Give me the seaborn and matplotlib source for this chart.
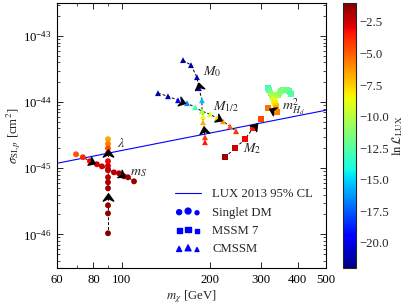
import numpy as np
import pandas as pd
import matplotlib
matplotlib.use('Agg')
import matplotlib.pyplot as plt
import seaborn as sns
from matplotlib.path import Path
from matplotlib.lines import Line2D
from matplotlib.ticker import FixedLocator, NullFormatter, LogLocator

# ---- data ----
lux_m = [60, 80, 100, 150, 200, 300, 400, 500]
lux_sig = [1.19e-45, 1.53e-45, 1.86e-45, 2.65e-45, 3.40e-45, 4.85e-45, 6.23e-45, 7.56e-45]

# Singlet DM, lambda scan
lam_m = [89.7, 89.7, 89.7, 89.7, 89.7, 89.7, 89.7, 89.7, 89.7, 89.7, 89.7, 89.7, 89.7]
lam_sig = [2.75e-45, 2.35e-45, 2.01e-45, 1.69e-45, 1.28e-45, 1.09e-45, 9.33e-46,
           7.31e-46, 6.14e-46, 4.98e-46, 2.75e-46, 2.08e-46, 1.04e-46]
lam_lnL = [-6.6, -5.8, -4.6, -3.5, -3.0, -2.6, -2.3, -2.0, -1.8, -1.6, -1.4, -1.3, -1.1]

# Singlet DM, m_S scan
ms_m = [69.7, 73.6, 77.8, 82.2, 85.5, 89.7, 94.0, 97.8, 101.7, 105.0, 110.1]
ms_sig = [1.63e-45, 1.47e-45, 1.28e-45, 1.15e-45, 1.07e-45, 9.66e-46, 8.69e-46,
          8.40e-46, 7.56e-46, 7.31e-46, 6.35e-46]
ms_lnL = [-4.8, -3.8, -3.0, -2.6, -2.4, -2.3, -2.0, -1.8, -1.7, -1.6, -1.5]

# CMSSM, M0 scan
m0_m = [162.0, 172.5, 180.8, 183.7, 188.1, 188.1, 189.6, 189.6, 191.1, 192.6, 192.6]
m0_sig = [4.33e-44, 3.64e-44, 2.39e-44, 1.63e-44, 1.07e-44, 7.31e-45, 6.14e-45,
          4.98e-45, 4.04e-45, 2.95e-45, 2.48e-45]
m0_lnL = [-21.5, -21.2, -20.8, -20.3, -15.5, -10.5, -8.5, -6.8, -5.8, -4.2, -3.5]

# CMSSM, M1/2 scan
m12_m = [133.0, 143.9, 155.7, 167.2, 178.1, 188.1, 200.4, 211.7, 222.0, 234.6, 246.1]
m12_sig = [1.37e-44, 1.23e-44, 1.07e-44, 9.66e-45, 8.39e-45, 7.31e-45, 6.58e-45,
           5.73e-45, 5.15e-45, 4.33e-45, 3.64e-45]
m12_lnL = [-21.3, -21.0, -19.5, -16.5, -13.0, -10.5, -9.0, -7.5, -6.3, -5.0, -4.0]

# MSSM 7, M2 scan
m2_m = [225.5, 244.0, 264.0, 281.2, 299.5]
m2_sig = [1.47e-45, 2.01e-45, 2.75e-45, 4.04e-45, 5.52e-45]
m2_lnL = [-1.6, -2.4, -3.0, -3.4, -4.5]

# MSSM 7, m_Hd^2 scan
mhd_m = [317.3, 319.8, 322.8, 325.6, 328.2, 330.5, 332.6, 334.4, 336.1, 337.1, 337.9, 338.9, 316.6]
mhd_sig = [1.629e-44, 1.510e-44, 1.387e-44, 1.294e-44, 1.208e-44, 1.117e-44, 1.035e-44,
           9.59e-45, 8.87e-45, 8.22e-45, 7.62e-45, 7.05e-45, 8.11e-45]
mhd_lnL = [-13.2, -12.4, -11.6, -10.8, -10.0, -9.3, -8.7, -8.1, -7.5, -6.9, -6.3, -5.8, -5.5]

mhd2_m = [343.3, 346.5, 350.7, 356.2, 361.9, 368.5, 373.4, 377.3, 378.6]
mhd2_sig = [1.276e-44, 1.393e-44, 1.469e-44, 1.521e-44, 1.545e-44, 1.535e-44, 1.483e-44,
            1.403e-44, 1.321e-44]
mhd2_lnL = [-10.5, -11.0, -11.3, -11.5, -11.6, -11.8, -12.0, -12.3, -12.5]

xtick_vals = [60, 80, 100, 200, 300, 400, 500]
xtick_labels = ['60', '80', '100', '200', '300', '400', '500']
ytick_vals = [1e-46, 1e-45, 1e-44, 1e-43]
cbar_ticks = [-2.5, -5.0, -7.5, -10.0, -12.5, -15.0, -17.5, -20.0]
VMIN, VMAX = -22.0, -1.0

branches = {
    'lam': (lam_m, lam_sig, lam_lnL, 'Singlet DM'),
    'ms': (ms_m, ms_sig, ms_lnL, 'Singlet DM'),
    'm0': (m0_m, m0_sig, m0_lnL, 'CMSSM'),
    'm12': (m12_m, m12_sig, m12_lnL, 'CMSSM'),
    'm2': (m2_m, m2_sig, m2_lnL, 'MSSM 7'),
    'mhd': (mhd_m, mhd_sig, mhd_lnL, 'MSSM 7'),
    'mhd2': (mhd2_m, mhd2_sig, mhd2_lnL, 'MSSM 7'),
}
# (branch, position along the scan, direction)
arrows = [('lam', 3.0, -1), ('lam', 9.5, -1), ('ms', 2.3, 1), ('ms', 7.6, 1),
          ('m0', 2.8, -1), ('m0', 8.2, -1), ('m12', 2.5, 1), ('m12', 7.4, 1),
          ('m2', 3.2, 1), ('mhd', 11.5, 1)]

df = pd.concat([pd.DataFrame({'m': b[0], 'sigma': b[1], 'lnL': b[2], 'model': b[3]})
                for b in branches.values()], ignore_index=True)

sns.set_style('ticks')
plt.rcParams['font.family'] = ['Liberation Serif', 'DejaVu Serif']
plt.rcParams['mathtext.fontset'] = 'stix'
plt.rcParams['font.size'] = 9.2

jet = plt.get_cmap('jet')

fig = plt.figure(figsize=(4.07, 3.05), dpi=100)
ax = fig.add_axes([0.140, 0.121, 0.661, 0.869])
cax = fig.add_axes([0.843, 0.121, 0.032, 0.869])

ax.set_xscale('log')
ax.set_yscale('log')
ax.set_xlim(60, 500)
ax.set_ylim(10**-46.51, 10**-42.5)

ax.plot(lux_m, lux_sig, color='b', lw=0.8, zorder=1)
for b in branches.values():
    ax.plot(b[0], b[1], ls=(0, (3, 2)), color='k', lw=0.7, zorder=2)

sns.scatterplot(data=df, x='m', y='sigma', hue='lnL', palette=jet, hue_norm=(VMIN, VMAX),
                style='model', markers={'Singlet DM': 'o', 'MSSM 7': 's', 'CMSSM': '^'},
                s=18, linewidth=0, legend=False, ax=ax, zorder=3)


def arrow_marker(angle):
    # concave arrow head, a bit wider than long
    verts = np.array([[0.7, 0], [-0.7, 1.0], [-0.2, 0], [-0.7, -1.0], [0.7, 0]])
    c, s = np.cos(angle), np.sin(angle)
    rot = verts @ np.array([[c, s], [-s, c]])
    return Path(rot, [Path.MOVETO, Path.LINETO, Path.LINETO, Path.LINETO, Path.CLOSEPOLY])


for key, t, sign in arrows:
    m, sig = branches[key][0], branches[key][1]
    i = int(t)
    f = t - i
    j = min(i + 1, len(m) - 1)
    lx = np.log10(m[i]) + f * (np.log10(m[j]) - np.log10(m[i]))
    ly = np.log10(sig[i]) + f * (np.log10(sig[j]) - np.log10(sig[i]))
    p0 = ax.transData.transform((m[i], sig[i]))
    p1 = ax.transData.transform((m[j], sig[j]))
    d = (p1 - p0) * sign
    ang = np.arctan2(d[1], d[0])
    ax.plot([10**lx], [10**ly], ls='none', marker=arrow_marker(ang), ms=7.5,
            color='k', zorder=4)

# scan labels
ax.text(96.3, 2.39e-45, r'$\lambda$', ha='left', va='center', fontsize=10)
ax.text(106.7, 8.69e-46, r'$m_S$', ha='left', va='center', fontsize=10)
ax.text(189.6, 2.95e-44, r'$M_0$', ha='left', va='center', fontsize=10)
ax.text(205.2, 8.69e-45, r'$M_{1/2}$', ha='left', va='center', fontsize=10)
ax.text(353.5, 8.69e-45, r'$m^2_{H_d}$', ha='left', va='center', fontsize=10)
ax.text(259.9, 2.01e-45, r'$M_2$', ha='left', va='center', fontsize=10)

ax.set_xticks(xtick_vals, labels=xtick_labels)
ax.xaxis.set_minor_locator(FixedLocator([70, 90]))
ax.xaxis.set_minor_formatter(NullFormatter())
ax.set_yticks(ytick_vals)
ax.yaxis.set_minor_locator(LogLocator(base=10, subs=np.arange(2, 10)))
ax.yaxis.set_minor_formatter(NullFormatter())
ax.tick_params(which='both', direction='in', top=True, right=True, colors='k', pad=4)
ax.tick_params(which='major', length=4, width=0.6)
ax.tick_params(which='minor', length=2, width=0.5)
for sp in ax.spines.values():
    sp.set_color('k')
    sp.set_linewidth(0.8)

ax.set_xlabel(r'$m_\chi$ [GeV]', labelpad=2)
ax.set_ylabel(r'$\sigma_{{\rm SI},p}$ [cm$^2$]', labelpad=0)

handles = [
    Line2D([], [], color='b', lw=0.8, label='LUX 2013 95% CL'),
    ax.scatter([np.nan, np.nan], [np.nan, np.nan], s=[8, 18], c='b', marker='o', label='Singlet DM'),
    ax.scatter([np.nan, np.nan], [np.nan, np.nan], s=[8, 18], c='b', marker='s', label='MSSM 7'),
    ax.scatter([np.nan, np.nan], [np.nan, np.nan], s=[8, 18], c='b', marker='^', label='CMSSM'),
]
ax.legend(handles=handles, loc='lower right', frameon=False, scatterpoints=3,
          fontsize=9.2, handletextpad=0.9, borderaxespad=0.6)

sm = plt.cm.ScalarMappable(cmap=jet, norm=plt.Normalize(VMIN, VMAX))
cb = fig.colorbar(sm, cax=cax)
cb.set_ticks(cbar_ticks)
cb.set_label(r'$\ln\mathcal{L}_{\rm LUX}$', labelpad=1)
cb.ax.tick_params(direction='in', length=3, width=0.5, pad=2)
cb.outline.set_linewidth(0.8)

fig.savefig('out.png', dpi=100)
